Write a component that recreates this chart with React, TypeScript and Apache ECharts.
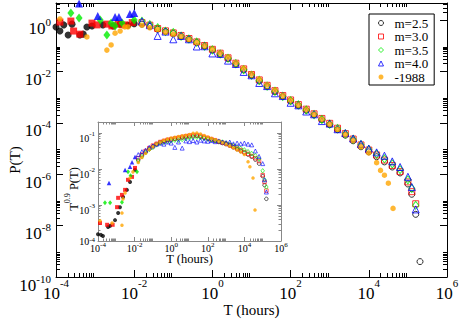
import { useEffect, useRef } from "react";
import * as echarts from "echarts";

const SERIF = "'Liberation Serif', 'DejaVu Serif', serif";

// ---- shared T bins (hours) ----
const binT = [0.0158, 0.0251, 0.0398, 0.0631, 0.1, 0.158, 0.251, 0.398, 0.631, 1, 1.58, 2.51, 3.98, 6.31, 10, 15.8, 25.1, 39.8, 63.1, 100, 158, 251, 398, 631, 1000, 1585, 2512, 3981, 6310, 10000, 15850, 25120, 39810, 63100, 100000, 125900, 158500];

// ---- main plot: P(T) ----
const pM25 = [0.692, 0.562, 0.437, 0.355, 0.295, 0.229, 0.178, 0.132, 0.0955, 0.0676, 0.0468, 0.0316, 0.0191, 0.0115, 6.92e-3, 4.27e-3, 2.63e-3, 1.62e-3, 1.05e-3, 7.08e-4, 4.68e-4, 3.09e-4, 2.04e-4, 1.32e-4, 8.51e-5, 5.37e-5, 3.31e-5, 2.0e-5, 1.17e-5, 7.41e-6, 4.79e-6, 3.02e-6, 1.91e-6, 1.12e-6, 4.17e-7, 1.66e-7, 2.75e-8];
const pM30 = [0.794, 0.631, 0.468, 0.380, 0.316, 0.251, 0.191, 0.141, 0.102, 0.0724, 0.0513, 0.0339, 0.0209, 0.0126, 7.59e-3, 4.68e-3, 2.88e-3, 1.78e-3, 1.15e-3, 7.76e-4, 5.13e-4, 3.39e-4, 2.24e-4, 1.48e-4, 9.55e-5, 6.17e-5, 3.80e-5, 2.34e-5, 1.38e-5, 8.71e-6, 5.62e-6, 3.55e-6, 2.19e-6, 1.26e-6, 5.01e-7, 2.09e-7, 7.08e-8];
const pM35 = [0.891, 0.661, 0.501, 0.363, 0.324, 0.234, 0.182, 0.138, 0.0955, 0.0692, 0.0479, 0.0324, 0.0200, 0.0117, 7.08e-3, 4.47e-3, 2.69e-3, 1.70e-3, 1.07e-3, 7.24e-4, 5.01e-4, 3.16e-4, 2.09e-4, 1.35e-4, 8.91e-5, 6.03e-5, 3.72e-5, 2.29e-5, 1.41e-5, 9.12e-6, 6.03e-6, 3.98e-6, 2.51e-6, 1.51e-6, 6.03e-7, 2.82e-7, 6.17e-8];
const pM40 = [0.891, 0.631, 0.240, 0.355, 0.178, 0.240, 0.178, 0.0933, 0.0955, 0.0501, 0.0479, 0.0263, 0.0195, 9.55e-3, 7.08e-3, 3.55e-3, 2.69e-3, 1.41e-3, 1.10e-3, 6.03e-4, 4.79e-4, 2.75e-4, 2.14e-4, 1.17e-4, 9.33e-5, 5.62e-5, 3.98e-5, 2.45e-5, 1.51e-5, 1.0e-5, 7.08e-6, 5.25e-6, 3.16e-6, 1.91e-6, 7.94e-7, 3.16e-7, 4.27e-8];
const pM1988 = [0.631, 0.501, 0.437, 0.339, 0.282, 0.234, 0.178, 0.132, 0.1, 0.0724, 0.0525, 0.0355, 0.0219, 0.0132, 7.94e-3, 4.90e-3, 3.02e-3, 1.86e-3, 1.17e-3, 7.59e-4, 5.01e-4, 3.31e-4, 2.14e-4, 1.38e-4, 8.91e-5, 5.62e-5, 3.47e-5, 2.04e-5, 1.17e-5, 6.76e-6, 2.82e-6];
const tail1988 = [[19950, 1.41e-6], [25120, 9.12e-7], [31620, 4.47e-7], [41690, 4.68e-8]];
const extra25 = [[204000, 3.98e-10]];

// early (short-time) points, drawn filled
const early25 = [[1.0e-4, 0.537], [1.26e-4, 0.372], [1.58e-4, 0.646], [2.04e-4, 0.263], [2.57e-4, 0.692], [4.07e-4, 0.263], [5.0e-4, 0.282], [6.17e-4, 0.537], [8.32e-4, 0.589], [1.58e-3, 0.646], [2.88e-3, 0.589], [4.37e-3, 0.692], [6.92e-3, 0.631], [0.01, 0.724]];
const early30 = [[1.26e-4, 0.832], [2.4e-4, 0.912], [2.82e-4, 0.372], [4.07e-4, 0.282], [8.32e-4, 0.759], [1.12e-3, 0.646], [2.0e-3, 0.692], [2.69e-3, 0.589], [3.89e-3, 0.692], [5.75e-3, 0.646], [8.91e-3, 0.794]];
const early35 = [[2.4e-4, 1.86], [3.89e-4, 1.20], [1.35e-3, 1.0], [2.0e-3, 0.263], [2.57e-3, 0.759], [3.24e-3, 0.589], [4.9e-3, 0.759], [0.01, 1.0]];
const early40 = [[3.89e-4, 4.37], [1.17e-3, 1.45], [3.24e-3, 1.32], [4.07e-3, 1.32], [7.76e-3, 1.70], [0.01, 1.86]];
const early1988 = [[1.26e-4, 1.10], [6.17e-4, 0.219], [2.0e-3, 0.0676], [2.57e-3, 0.107], [3.24e-3, 0.309], [4.37e-3, 0.372], [5.75e-3, 0.537], [6.92e-3, 0.537]];

// ---- inset: T^0.9 P(T) ----
const yI25 = [0.0178, 0.0240, 0.0302, 0.0363, 0.0427, 0.0490, 0.0550, 0.0589, 0.0631, 0.0661, 0.0692, 0.0708, 0.0741, 0.0776, 0.0794, 0.0813, 0.0832, 0.0794, 0.0741, 0.0692, 0.0646, 0.0603, 0.0562, 0.0525, 0.0490, 0.0447, 0.0398, 0.0355, 0.0316, 0.0282, 0.0251, 0.0219, 0.0182, 0.0141, 6.31e-3, 3.55e-3, 1.48e-3];
const yI30 = [0.0200, 0.0251, 0.0316, 0.0380, 0.0447, 0.0501, 0.0562, 0.0603, 0.0646, 0.0676, 0.0708, 0.0741, 0.0776, 0.0813, 0.0851, 0.0871, 0.0871, 0.0832, 0.0776, 0.0724, 0.0676, 0.0631, 0.0575, 0.0537, 0.0501, 0.0457, 0.0417, 0.0372, 0.0331, 0.0295, 0.0263, 0.0229, 0.0200, 0.0166, 6.76e-3, 4.37e-3, 2.51e-3];
const yI35 = [0.0166, 0.0219, 0.0282, 0.0347, 0.0398, 0.0468, 0.0525, 0.0550, 0.0575, 0.0603, 0.0631, 0.0631, 0.0661, 0.0692, 0.0724, 0.0759, 0.0759, 0.0741, 0.0708, 0.0676, 0.0646, 0.0617, 0.0589, 0.0562, 0.0525, 0.0490, 0.0447, 0.0407, 0.0372, 0.0339, 0.0302, 0.0269, 0.0234, 0.0191, 8.91e-3, 5.01e-3, 3.16e-3];
const yI40 = [0.0251, 0.0302, 0.0331, 0.0398, 0.0437, 0.0490, 0.0525, 0.0490, 0.0562, 0.0525, 0.0398, 0.0562, 0.0380, 0.0603, 0.0575, 0.0617, 0.0562, 0.0631, 0.0603, 0.0589, 0.0617, 0.0575, 0.0603, 0.0562, 0.0537, 0.0562, 0.0501, 0.0525, 0.0501, 0.0525, 0.0490, 0.0468, 0.0316, 0.0224, 0.0141, 5.01e-3, 2.29e-3];
const yI1988 = [0.0151, 0.0209, 0.0275, 0.0347, 0.0417, 0.0501, 0.0562, 0.0631, 0.0676, 0.0724, 0.0759, 0.0794, 0.0832, 0.0871, 0.0912, 0.0977, 0.1, 0.0933, 0.0851, 0.0776, 0.0708, 0.0646, 0.0589, 0.0537, 0.0490, 0.0437, 0.0389, 0.0339, 0.0295, 0.0251, 0.0158];
const tailI1988 = [[19950, 0.0115], [29510, 5.62e-3], [38020, 7.24e-4]];

const earlyI25 = [[1.0e-4, 1.55e-4], [1.45e-4, 1.48e-4], [1.86e-4, 1.38e-4], [3.55e-4, 2.45e-4], [4.57e-4, 2.63e-4], [8.51e-4, 3.8e-4], [1.26e-3, 6.03e-4], [1.58e-3, 8.71e-4], [2.34e-3, 1.66e-3], [3.8e-3, 2.63e-3], [5.62e-3, 4.37e-3], [1.05e-2, 9.33e-3]];
const earlyI30 = [[1.29e-4, 3.16e-4], [3.16e-4, 2.82e-4], [6.31e-4, 2.82e-4], [1.1e-3, 8.71e-4], [1.26e-3, 1.58e-3], [2.04e-3, 1.91e-3], [3.02e-3, 2.63e-3], [4.37e-3, 5.01e-3], [7.24e-3, 6.03e-3], [1.05e-2, 1.07e-2]];
const earlyI35 = [[2.4e-4, 1.15e-3], [4.57e-4, 1.15e-3], [2.04e-3, 1.2e-3], [4.37e-3, 8.32e-3], [6.0e-3, 6.5e-3], [1.35e-2, 8.32e-3]];
const earlyI40 = [[3.98e-4, 4.07e-3], [3.02e-3, 9.33e-3], [5.62e-3, 1.15e-2], [7.24e-3, 1.55e-2], [1.05e-2, 2.14e-2]];
const earlyI1988 = [[1.29e-4, 3.63e-4], [5.89e-4, 3.16e-4], [2.04e-3, 2.75e-4], [2.04e-3, 6.03e-4], [2.34e-3, 1.48e-3], [3.02e-3, 2.14e-3], [5.62e-3, 5.62e-3], [8.13e-3, 8.32e-3]];

// ---- axis tick/label values ----
const mainXMajors = [1e-4, 1e-2, 1, 1e2, 1e4, 1e6];
const mainYMajors = [1e-10, 1e-8, 1e-6, 1e-4, 1e-2, 1];
const insetXMajors = [1e-4, 1e-2, 1, 1e2, 1e4, 1e6];
const insetYMajors = [1e-4, 1e-3, 1e-2, 1e-1];

const legendNames = ["m=2.5", "m=3.0", "m=3.5", "m=4.0", "-1988"];
const COLORS = ["#000000", "#ff0000", "#00ee00", "#0000ff", "#ffa500"];

const MAIN_X = [1e-4, 1e6];
const MAIN_Y = [1e-10, 4.6];
const INS_X = [1e-4, 1e6];
const INS_Y = [1e-4, 0.202];

function nudge(vals: number[], min: number, max: number) {
  return vals.map((v) => (v <= min ? min * 1.000001 : v >= max ? max * 0.999999 : v));
}
function minorsOf(majors: number[], min: number, max: number) {
  const out: number[] = [];
  majors.forEach((m) => {
    for (let k = 2; k <= 9; k++) {
      const v = m * k;
      if (v > min && v < max) out.push(v);
    }
  });
  return out;
}
const expOf = (v: number) => Math.round(Math.log10(v));
const supFmt = (v: number) => `{b|10}{s|${expOf(v)}}`;
// inset y: the bottom label sits a little higher, clear of the x labels
const insetYFmt = (v: number) => (expOf(v) === -4 ? `{B|10}{S|${expOf(v)}}` : supFmt(v));
function rich(big: number, small: number, a: number, c: number) {
  return {
    b: { fontSize: big, lineHeight: big, fontFamily: SERIF, color: "#000", verticalAlign: "top", padding: [a, 0, 0, 0] },
    s: { fontSize: small, lineHeight: small, fontFamily: SERIF, color: "#000", verticalAlign: "top", padding: [c, 0, 0, 0] },
  };
}

function axisSet(dim: "x" | "y", gridIndex: number, ext: number[], majors: number[], color: string, majLen: number, minLen: number, label: any, name: any) {
  const base: any = {
    type: "log", logBase: 10, gridIndex, min: ext[0], max: ext[1],
    splitLine: { show: false }, minorTick: { show: false }, minorSplitLine: { show: false },
    silent: true, axisPointer: { show: false }, nameMoveOverlap: false,
  };
  const maj = nudge(majors, ext[0], ext[1]);
  const minr = minorsOf(majors, ext[0], ext[1]);
  const posA = dim === "x" ? "bottom" : "left";
  const posB = dim === "x" ? "top" : "right";
  const line = { show: true, onZero: false, lineStyle: { color, width: 1 } };
  const tick = (vals: number[], len: number) => ({ show: true, inside: true, length: len, customValues: vals, lineStyle: { color, width: 1 } });
  return [
    { ...base, position: posA, axisLine: line, axisTick: tick(maj, majLen), axisLabel: { ...label, customValues: maj }, ...name },
    { ...base, position: posA, axisLine: { show: false }, axisTick: tick(minr, minLen), axisLabel: { show: false } },
    { ...base, position: posB, axisLine: line, axisTick: tick(maj, majLen), axisLabel: { show: false } },
    { ...base, position: posB, axisLine: { show: false }, axisTick: tick(minr, minLen), axisLabel: { show: false } },
  ];
}

const zip = (ts: number[], vs: number[]) => vs.map((v, i) => [ts[i], v]);

function sc(name: string, data: any[], ai: number, symbol: string, size: any, color: string, open: boolean, bw = 1) {
  return {
    type: "scatter", name, xAxisIndex: ai, yAxisIndex: ai, data, symbol, symbolSize: size, silent: true,
    itemStyle: open ? { color: "rgba(0,0,0,0)", borderColor: color, borderWidth: bw } : { color, borderWidth: 0 },
    z: 2,
  };
}

function buildOption() {
  const insetYRich: any = {
    ...rich(10, 7, 6, 2.5),
    B: { fontSize: 10, lineHeight: 10, fontFamily: SERIF, color: "#000", verticalAlign: "top", padding: [0, 0, 6, 0] },
    S: { fontSize: 7, lineHeight: 7, fontFamily: SERIF, color: "#000", verticalAlign: "top" },
  };
  const xAxes = [
    ...axisSet("x", 0, MAIN_X, mainXMajors, "#000", 7, 4,
      { show: true, margin: 0, formatter: supFmt, rich: rich(17, 11, 8, 0.5) },
      { name: "T (hours)", nameLocation: "middle", nameGap: 25, nameTextStyle: { fontFamily: SERIF, fontSize: 15, color: "#000" } }),
    ...axisSet("x", 1, INS_X, insetXMajors, "#888", 4, 2.5,
      { show: true, margin: 0, formatter: supFmt, rich: rich(10, 7, 2, 0) },
      { name: "T (hours)", nameLocation: "middle", nameGap: 11.5, nameTextStyle: { fontFamily: SERIF, fontSize: 12.5, color: "#000" } }),
  ];
  const yAxes = [
    ...axisSet("y", 0, MAIN_Y, mainYMajors, "#000", 7, 4,
      { show: true, margin: 5, formatter: supFmt, rich: rich(17, 11, 8, 4.5) },
      { name: "P(T)", nameLocation: "middle", nameGap: 34, nameTextStyle: { fontFamily: SERIF, fontSize: 15, color: "#000", padding: [0, 40, 0, 0] } }),
    ...axisSet("y", 1, INS_Y, insetYMajors, "#888", 4, 2.5,
      { show: true, margin: 3, formatter: insetYFmt, rich: insetYRich },
      {
        name: "{t|T}{s|0.9}{t| P(T)}", nameLocation: "middle", nameGap: 22,
        nameTextStyle: {
          padding: [0, 15, 0, 0],
          rich: {
            t: { fontFamily: SERIF, fontSize: 12.5, lineHeight: 12.5, color: "#000", verticalAlign: "top", padding: [4, 0, 0, 0] },
            s: { fontFamily: SERIF, fontSize: 8, lineHeight: 8, color: "#000", verticalAlign: "top" },
          },
        },
      }),
  ];

  const M = 0, I = 4;
  const series = [
    // main
    sc("m=2.5 early", early25, M, "circle", 7, COLORS[0], false),
    sc("m=2.5", [...zip(binT, pM25), ...extra25], M, "circle", 6, COLORS[0], true),
    sc("m=3.0 early", early30, M, "rect", 7, COLORS[1], false),
    sc("m=3.0", zip(binT, pM30), M, "rect", 6, COLORS[1], true),
    sc("m=3.5 early", early35, M, "diamond", [7, 9], COLORS[2], false),
    sc("m=3.5", zip(binT, pM35), M, "diamond", [6, 8], COLORS[2], true),
    sc("m=4.0 early", early40, M, "triangle", 8, COLORS[3], false),
    sc("m=4.0", zip(binT, pM40), M, "triangle", 7, COLORS[3], true),
    sc("-1988", [...early1988, ...zip(binT, pM1988), ...tail1988], M, "circle", 5.5, COLORS[4], false),
    // inset
    sc("i25e", earlyI25, I, "circle", 4, COLORS[0], false),
    sc("i25", zip(binT, yI25), I, "circle", 3.5, COLORS[0], true, 0.8),
    sc("i30e", earlyI30, I, "rect", 4, COLORS[1], false),
    sc("i30", zip(binT, yI30), I, "rect", 3.5, COLORS[1], true, 0.8),
    sc("i35e", earlyI35, I, "diamond", [4, 5], COLORS[2], false),
    sc("i35", zip(binT, yI35), I, "diamond", [3.5, 4.5], COLORS[2], true, 0.8),
    sc("i40e", earlyI40, I, "triangle", 4.5, COLORS[3], false),
    sc("i40", zip(binT, yI40), I, "triangle", 4, COLORS[3], true, 0.8),
    sc("i1988", [...earlyI1988, ...zip(binT, yI1988), ...tailI1988], I, "circle", 3.5, COLORS[4], false),
  ];

  return {
    animation: false,
    backgroundColor: "#fff",
    textStyle: { fontFamily: SERIF },
    grid: [
      { left: 56, right: 13, top: 3, bottom: 42, outerBoundsMode: "none", containLabel: false },
      { left: 98, right: 179, top: 122, bottom: 78, outerBoundsMode: "none", containLabel: false },
    ],
    legend: {
      data: legendNames,
      orient: "vertical",
      left: 369,
      top: 14,
      padding: [2.5, 6, 1.5, 9],
      itemWidth: 5,
      itemHeight: 5,
      itemGap: 0.5,
      borderColor: "#000",
      borderWidth: 1,
      backgroundColor: "#fff",
      selectedMode: false,
      itemStyle: { borderWidth: 1 },
      textStyle: { fontFamily: SERIF, fontSize: 13, color: "#000", padding: [0, 0, 0, 6] },
    },
    xAxis: xAxes,
    yAxis: yAxes,
    series,
  };
}

export default function App() {
  const ref = useRef<HTMLDivElement>(null);
  useEffect(() => {
    if (!ref.current) return;
    const chart = echarts.init(ref.current, null, { renderer: "svg" });
    chart.setOption(buildOption() as any);
    return () => chart.dispose();
  }, []);
  return <div ref={ref} style={{ position: "fixed", left: 0, top: 0, width: 460, height: 319, background: "#fff" }} />;
}
